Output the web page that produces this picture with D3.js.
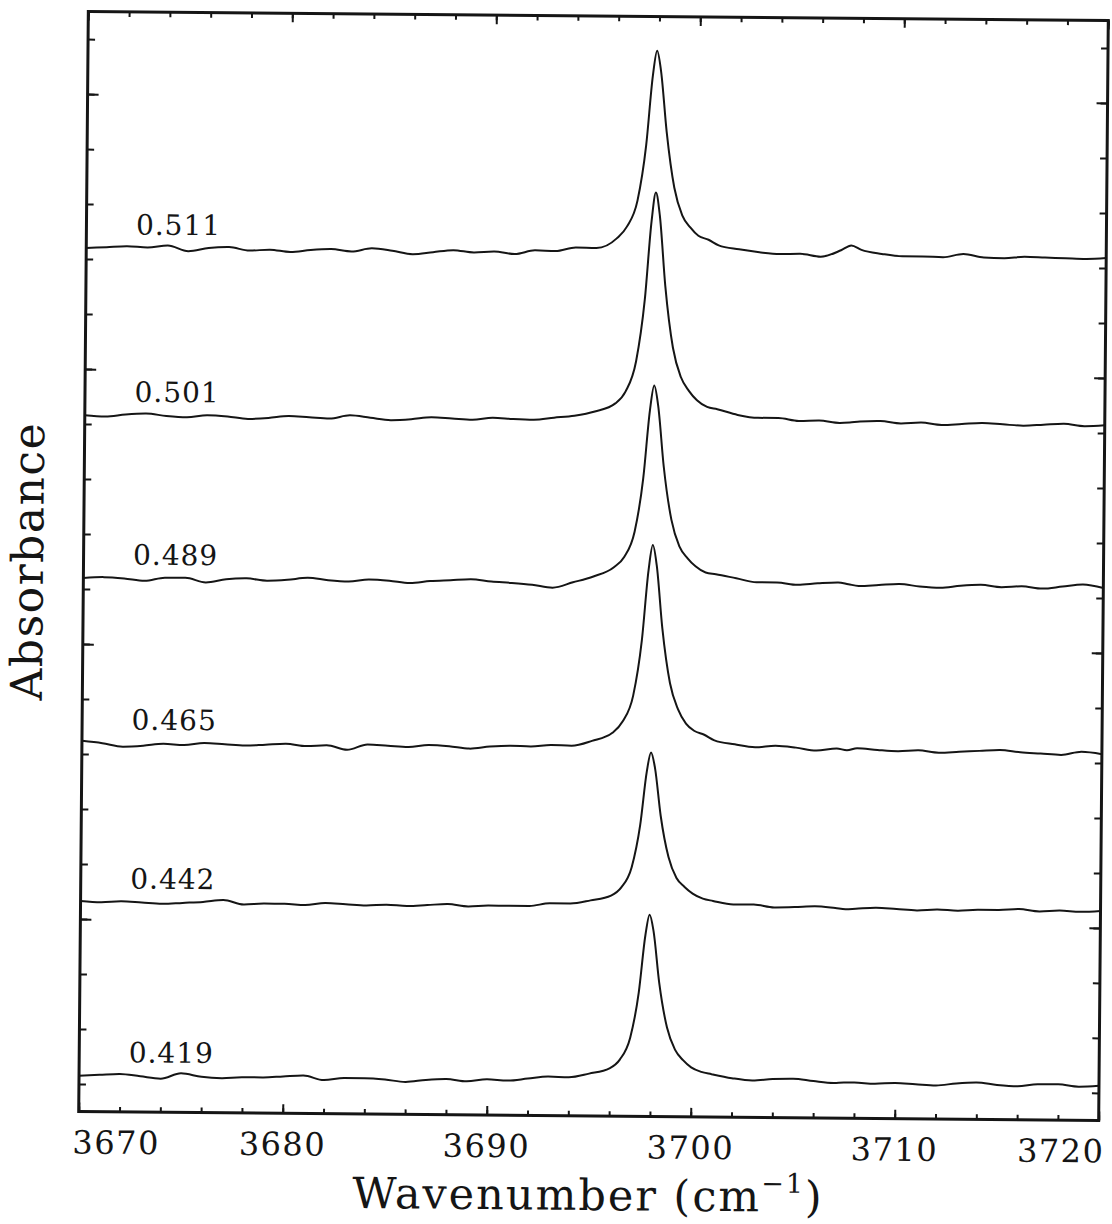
<!DOCTYPE html>
<html>
<head>
<meta charset="utf-8">
<script src="https://cdn.jsdelivr.net/npm/d3@7"></script>
<style>
  html, body { margin: 0; padding: 0; background: #ffffff; }
  svg { display: block; }
</style>
</head>
<body>
<script>
// ---------------- DATA ----------------
// wavenumber grid (cm^-1)
const wavenumbers = [
  3670,3671,3672,3673,3674,3675,3676,3677,3678,3679,
  3680,3681,3682,3683,3684,3685,3686,3687,3688,3689,
  3690,3691,3692,3693,3694,3695,3696,3696.5,3697,3697.4,
  3697.7,3697.9,3698.1,3698.4,3698.8,3699.2,3699.6,3700,3700.5,3701,
  3702,3703,3704,3705,3706,3707,3707.5,3708,3709,3710,
  3711,3712,3713,3714,3715,3716,3717,3718,3719,3720
];
// absorbance of each spectrum, in units of 1e-4, relative to its own baseline
const abs0511 = [0,2,4,2,6,-4,2,4,-2,0, -4,0,2,-2,4,0,-6,-2,2,-2, 0,-4,3,2,9,8,26,48,95,195, 322,368,331,221,119,69,47,32,25,15, 8,3,0,1,-4,8,17,9,2,-2, -2,-3,3,-3,-4,-1,-2,-3,-4,-2];
const abs0501 = [0,-2,2,4,0,-2,2,0,-4,-2, 2,0,-2,4,0,-4,-2,2,0,-2, 2,0,-1,3,7,15,30,52,107,219, 362,414,373,244,132,79,54,37,25,21, 11,6,6,1,2,-2,-1,1,2,-2, 0,-4,-2,0,-2,-4,-2,0,-4,-2];
const abs0489 = [0,2,0,-4,2,2,-6,0,2,-2, 0,4,0,-2,2,0,-4,0,2,4, 0,-2,-5,-10,0,11,28,47,93,190, 314,359,323,212,115,67,46,31,20,17, 10,3,3,-1,2,4,1,-2,0,2, -2,-4,0,2,-2,0,-4,0,4,-2];
const abs0465 = [4,0,-6,-4,0,-2,2,0,-2,0, 2,-2,0,-8,2,0,-2,2,0,-4, 0,2,1,4,3,12,27,48,95,195, 323,369,332,218,118,71,45,32,25,15, 8,3,6,3,-2,2,-1,3,0,-2, 0,-4,-2,0,2,-2,-4,-6,0,-4];
const abs0442 = [2,0,2,0,-2,0,2,6,-2,0, 0,-2,2,0,-2,0,-2,0,2,-2, 0,0,0,5,5,11,20,35,72,149, 246,281,253,166,91,53,37,25,16,12, 6,6,1,2,4,1,-1,0,2,0, -2,0,-2,0,0,2,-2,0,-2,0];
const abs0419 = [0,2,4,0,-4,6,0,-2,0,0, 2,4,-4,0,0,-2,-6,-2,0,-4, 0,-2,2,6,5,12,22,38,78,160, 264,302,272,178,97,57,38,25,17,13, 6,2,5,6,2,-1,0,0,-2,0, -2,-4,0,2,-2,-4,0,0,-4,-2];

const seriesLabels = ["0.511","0.501","0.489","0.465","0.442","0.419"];
const seriesValues = [abs0511, abs0501, abs0489, abs0465, abs0442, abs0419];
// vertical stacking offsets of the traces (1e-4 absorbance)
const offsets = [1720, 1416, 1120, 820, 531, 215];

const xMajorTicks = [3670, 3680, 3690, 3700, 3710, 3720];
const xMinorTicks = d3.range(3670, 3721, 2);
const yMajorTicks = [500, 1000, 1500, 2000];
const yMinorTicks = d3.range(200, 2101, 100);

// ---------------- LAYOUT ----------------
const W = 1112, H = 1224;
const L = 83.5, R = 1103.5, T = 16, B = 1116;
const FONT = "'DejaVu Serif', serif";
const INK = "#151515";

const x = d3.scaleLinear().domain([3670, 3720]).range([L, R]);
const y = d3.scaleLinear().domain([150, 2150]).range([B, T]);

const svg = d3.select("body").append("svg")
  .attr("width", W).attr("height", H)
  .attr("viewBox", `0 0 ${W} ${H}`);
svg.append("rect").attr("width", W).attr("height", H).attr("fill", "#ffffff");

const g = svg.append("g").attr("transform", "rotate(0.5, 593.5, 566)");

function styleAxis(sel) {
  sel.select(".domain").remove();
  sel.selectAll(".tick line").attr("stroke", INK).attr("stroke-width", 2);
}

// x ticks (bottom + top, inward)
g.append("g").attr("transform", `translate(0,${B})`)
  .call(d3.axisBottom(x).tickValues(xMinorTicks).tickSize(-5).tickFormat(""))
  .call(styleAxis);
g.append("g").attr("transform", `translate(0,${B})`)
  .call(d3.axisBottom(x).tickValues(xMajorTicks).tickSize(-9).tickFormat(""))
  .call(styleAxis);
g.append("g").attr("transform", `translate(0,${T})`)
  .call(d3.axisTop(x).tickValues(xMinorTicks).tickSize(-5).tickFormat(""))
  .call(styleAxis);
g.append("g").attr("transform", `translate(0,${T})`)
  .call(d3.axisTop(x).tickValues(xMajorTicks).tickSize(-9).tickFormat(""))
  .call(styleAxis);

// y ticks (left + right, inward)
g.append("g").attr("transform", `translate(${L},0)`)
  .call(d3.axisLeft(y).tickValues(yMinorTicks).tickSize(-7).tickFormat(""))
  .call(styleAxis);
g.append("g").attr("transform", `translate(${L},0)`)
  .call(d3.axisLeft(y).tickValues(yMajorTicks).tickSize(-11).tickFormat(""))
  .call(styleAxis);
g.append("g").attr("transform", `translate(${R},0)`)
  .call(d3.axisRight(y).tickValues(yMinorTicks).tickSize(-7).tickFormat(""))
  .call(styleAxis);
g.append("g").attr("transform", `translate(${R},0)`)
  .call(d3.axisRight(y).tickValues(yMajorTicks).tickSize(-11).tickFormat(""))
  .call(styleAxis);

// frame
g.append("rect")
  .attr("x", L).attr("y", T).attr("width", R - L).attr("height", B - T)
  .attr("fill", "none").attr("stroke", INK).attr("stroke-width", 3);

// x tick labels
g.append("g").selectAll("text").data(xMajorTicks).join("text")
  .attr("x", (d, i) => i === 0 ? x(d) - 6 : (i === xMajorTicks.length - 1 ? x(d) + 6 : x(d)))
  .attr("y", 1158)
  .attr("text-anchor", (d, i) => i === 0 ? "start" : (i === xMajorTicks.length - 1 ? "end" : "middle"))
  .attr("font-family", FONT).attr("font-size", 32).attr("letter-spacing", 1.5)
  .attr("fill", INK)
  .text(d => d);

// spectra
const line = d3.line().curve(d3.curveMonotoneX);
seriesValues.forEach((vals, i) => {
  const pts = wavenumbers.map((w, j) => [x(w), y(vals[j] + offsets[i])]);
  g.append("path")
    .attr("d", line(pts))
    .attr("fill", "none").attr("stroke", INK).attr("stroke-width", 2)
    .attr("stroke-linejoin", "round");
});

// series labels
g.append("g").selectAll("text").data(seriesLabels).join("text")
  .attr("x", 133)
  .attr("y", (d, i) => y(offsets[i]) - 14)
  .attr("font-family", FONT).attr("font-size", 28).attr("letter-spacing", 1)
  .attr("fill", INK)
  .text(d => d);

// axis titles
const xt = g.append("text")
  .attr("x", (L + R) / 2).attr("y", 1210)
  .attr("text-anchor", "middle")
  .attr("font-family", FONT).attr("font-size", 43).attr("letter-spacing", 2)
  .attr("fill", INK);
xt.append("tspan").text("Wavenumber (cm");
xt.append("tspan").attr("dy", -19).attr("font-size", 27).text("\u22121");
xt.append("tspan").attr("dy", 19).text(")");

g.append("text")
  .attr("transform", `translate(43,${(T + B) / 2}) rotate(-90)`)
  .attr("text-anchor", "middle")
  .attr("font-family", FONT).attr("font-size", 44).attr("letter-spacing", 1.5)
  .attr("fill", INK)
  .text("Absorbance");
</script>
</body>
</html>
